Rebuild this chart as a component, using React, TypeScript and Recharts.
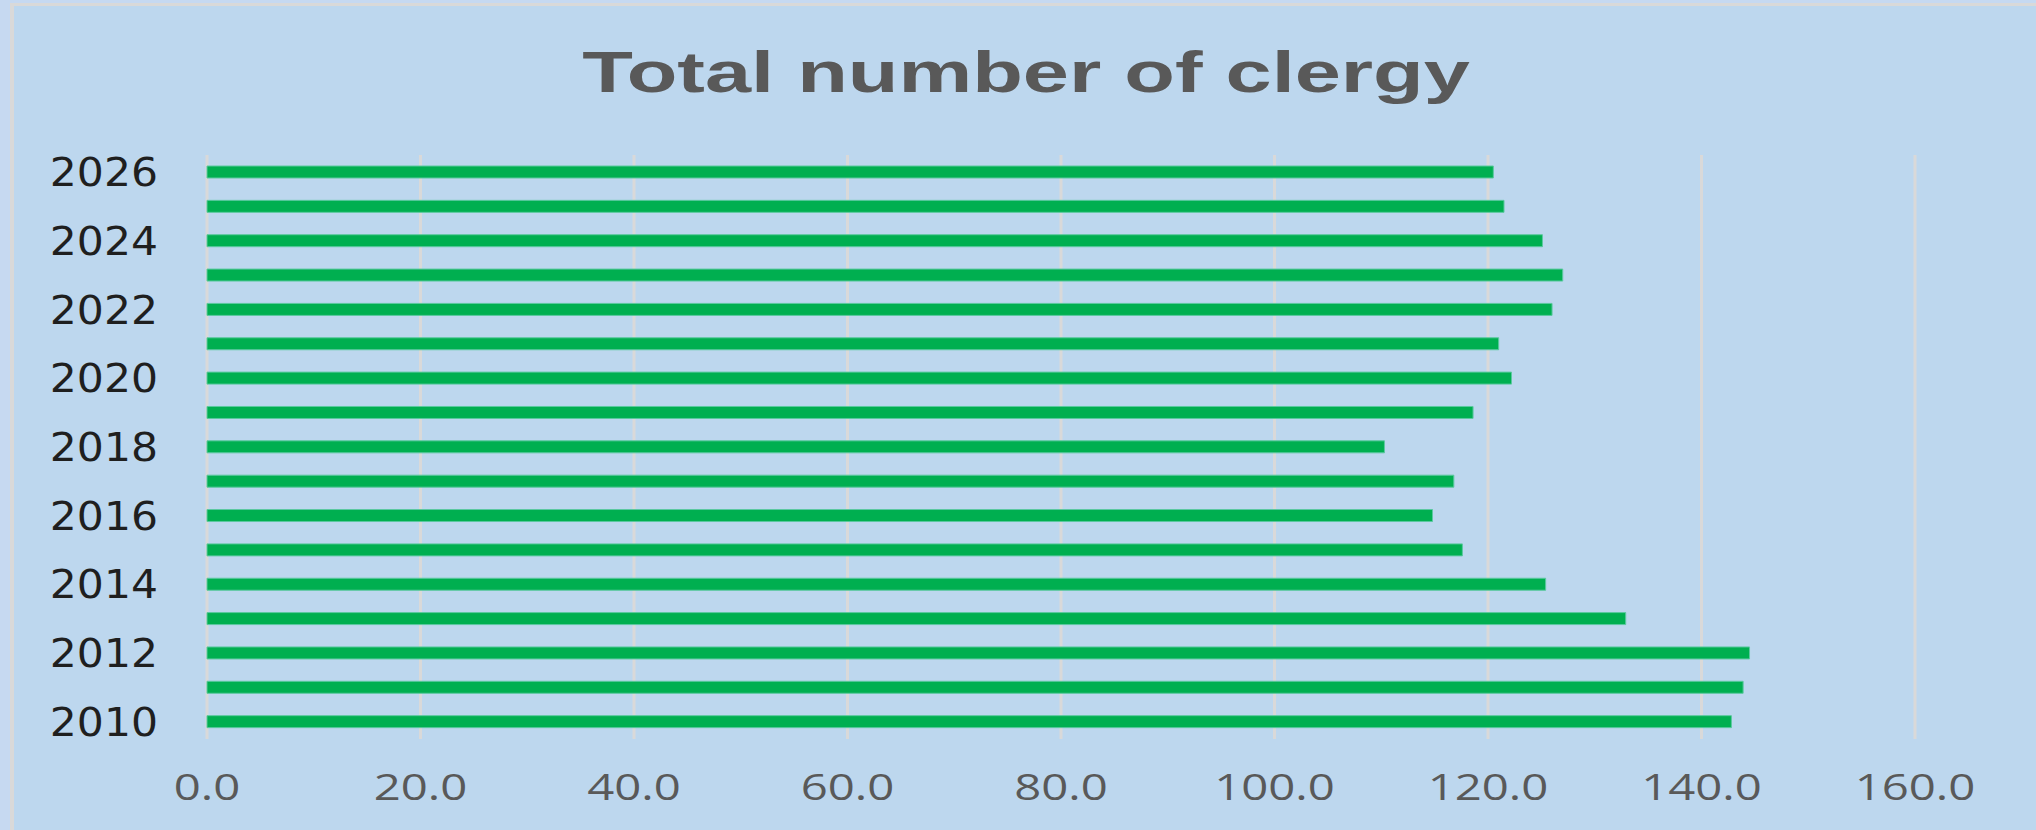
import { BarChart, Bar, XAxis, YAxis, CartesianGrid } from "recharts";

// categories run top to bottom, as drawn
const years = [
  "2026", "2025", "2024", "2023", "2022", "2021", "2020", "2019", "2018",
  "2017", "2016", "2015", "2014", "2013", "2012", "2011", "2010",
];
const clergy = [
  120.5, 121.5, 125.1, 127.0, 126.0, 121.0, 122.2, 118.6, 110.3,
  116.8, 114.8, 117.6, 125.4, 132.9, 144.5, 143.9, 142.8,
];
const xTicks = [0, 20, 40, 60, 80, 100, 120, 140, 160];

const title = "Total number of clergy";

const data = years.map((y, i) => ({ year: y, value: clergy[i] }));

function YTick(props: any) {
  const { x, y, payload } = props;
  return (
    <text
      transform={`translate(${x - 49},${y + 14}) scale(1.09,1)`}
      textAnchor="end"
      fill="#1f1f1f"
      fontFamily="DejaVu Sans"
      fontSize={39}
    >
      {payload.value}
    </text>
  );
}

function XTick(props: any) {
  const { x, y, payload } = props;
  return (
    <text
      transform={`translate(${x},${y + 61}) scale(1.28,1)`}
      textAnchor="middle"
      fill="#595959"
      fontFamily="Open Sans"
      fontSize={37}
    >
      {Number(payload.value).toFixed(1)}
    </text>
  );
}

export default function App() {
  return (
    <div style={{ position: "relative", width: 2036, height: 830, overflow: "hidden", background: "#c6d9f1" }}>
      <style>{"body{margin:0}"}</style>
      {/* chart area with its grey frame on top/left */}
      <div
        style={{
          position: "absolute",
          left: 10,
          top: 3,
          width: 2100,
          height: 900,
          background: "#bdd7ee",
          borderLeft: "4px solid #d9d9d9",
          borderTop: "3px solid #d9d9d9",
        }}
      />
      <svg width={2036} height={830} style={{ position: "absolute", left: 0, top: 0 }}>
        <text
          transform="translate(1026,92) scale(1.43,1)"
          textAnchor="middle"
          fill="#595959"
          fontFamily="Liberation Sans"
          fontWeight="bold"
          fontSize={58}
        >
          {title}
        </text>
      </svg>
      <div style={{ position: "absolute", left: 0, top: 0 }}>
        <BarChart
          width={2036}
          height={830}
          data={data}
          layout="vertical"
          margin={{ top: 155, right: 121, bottom: 31, left: 0 }}
          barCategoryGap={0}
        >
          <CartesianGrid horizontal={false} stroke="#d9d9d9" strokeWidth={3} />
          <XAxis
            type="number"
            domain={[0, 160]}
            ticks={xTicks}
            axisLine={false}
            tickLine={false}
            tickSize={0}
            tickMargin={0}
            height={60}
            tick={XTick}
            interval={0}
          />
          <YAxis
            type="category"
            dataKey="year"
            width={207}
            axisLine={false}
            tickLine={false}
            tickSize={0}
            tickMargin={0}
            interval={1}
            tick={YTick}
          />
          <Bar
            dataKey="value"
            fill="#00af50"
            stroke="#5cc9a0"
            strokeWidth={1}
            barSize={12}
            isAnimationActive={false}
          />
        </BarChart>
      </div>
    </div>
  );
}
